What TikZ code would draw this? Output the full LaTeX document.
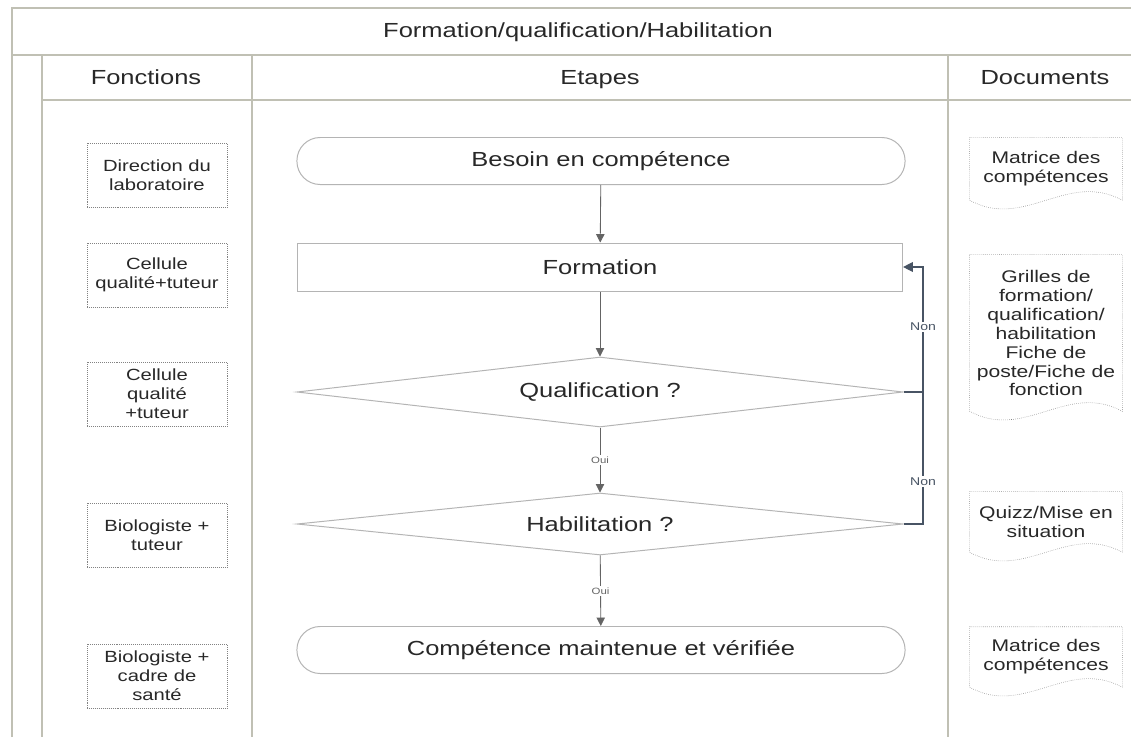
\documentclass[tikz,border=0pt]{standalone}
\usepackage{fontspec}
\setmainfont{Liberation Sans}[FakeStretch=1.25]
\usepackage{xcolor}
\usepackage{tikz}
\usetikzlibrary{shapes.geometric, arrows.meta, positioning, calc}
\definecolor{lanegray}{RGB}{192,192,180}
\definecolor{boxgray}{RGB}{130,130,130}
\definecolor{shapegray}{RGB}{180,180,180}
\definecolor{arrowgray}{RGB}{100,100,100}
\definecolor{retourblue}{RGB}{72,84,100}
\definecolor{textgray}{RGB}{40,40,40}

\tikzset{
  lane/.style={draw=lanegray, line width=1pt},
  entete/.style={text=textgray, text height=1.6ex, text depth=0.3ex, font=\fontsize{14.5}{17}\selectfont},
  fonction/.style={draw=boxgray, densely dotted, minimum width=3.5cm, minimum height=1.6cm,
    inner sep=0pt, align=center, text=textgray, font=\fontsize{11.5}{13.5}\selectfont},
  document/.style={minimum width=3.8cm, inner sep=0pt, align=center, text=textgray,
    font=\fontsize{12}{13.5}\selectfont},
  terminal/.style={draw=shapegray, line width=0.7pt, rounded corners=0.58cm, minimum width=15.2cm,
    minimum height=1.175cm, text=textgray, font=\fontsize{14.5}{17}\selectfont},
  etape/.style={draw=shapegray, line width=0.7pt, minimum width=15.125cm, minimum height=1.2cm,
    text=textgray, font=\fontsize{14.5}{17}\selectfont},
  decision/.style={draw=shapegray, line width=0.7pt, diamond, aspect=9, inner sep=0pt,
    minimum width=15.15cm, text=textgray, font=\fontsize{14.5}{17}\selectfont},
  flow/.style={draw=arrowgray, line width=0.6pt, -{Triangle[width=6pt,length=6pt]}},
  retour/.style={draw=retourblue, line width=0.8pt},
  oui/.style={fill=white, inner sep=1pt, text=arrowgray, font=\fontsize{6.5}{7}\selectfont},
  non/.style={fill=white, inner sep=1pt, text=retourblue, font=\fontsize{8}{9}\selectfont},
}

\begin{document}
\begin{tikzpicture}[x=0.025cm, y=-0.025cm]
\useasboundingbox (0,0) rectangle (1131,737);
\fill[white] (0,0) rectangle (1131,737);

% Lanes
\draw[lane] (12,737) -- (12,8) -- (1131,8);
\draw[lane] (12,55) -- (1131,55);
\draw[lane] (42,100) -- (1131,100);
\foreach \x in {42,252,948}
  \draw[lane] (\x,55) -- (\x,737);

% Headers
\node[entete] (titre) at (578,33) {Formation/qualification/Habilitation};
\node[entete] (hfonctions) at (146,80) {Fonctions};
\node[entete] (hetapes) at (600,80) {Etapes};
\node[entete] (hdocuments) at (1045,80) {Documents};

% Fonctions
\node[fonction] (f1) at (157,175) {Direction du\\laboratoire};
\node[fonction] (f2) at (157,275) {Cellule\\qualité+tuteur};
\node[fonction] (f3) at (157,394) {Cellule\\qualité\\+tuteur};
\node[fonction] (f4) at (157,535) {Biologiste +\\tuteur};
\node[fonction] (f5) at (157,676) {Biologiste +\\cadre de\\santé};

% Etapes
\node[terminal] (besoin) at (601,161) {Besoin en compétence};
\node[etape] (formation) at (600,267) {Formation};
\node[decision, minimum height=1.75cm] (qualif) at (600,392) {Qualification ?};
\node[decision, minimum height=1.55cm] (habil) at (600,524) {Habilitation ?};
\node[terminal] (maintenue) at (601,650) {Compétence maintenue et vérifiée};
\coordinate (boucle) at (923,267);

\draw[flow] (besoin) -- (formation);
\draw[flow] (formation) -- (qualif);
\draw[flow] (qualif) -- node[oui] {Oui} (habil);
\draw[flow] (habil) -- node[oui] {Oui} (maintenue);
\draw[retour, -{Triangle[width=7pt,length=7pt]}] (qualif.east) -| node[non, pos=0.76] {Non} (boucle) -- (formation.east);
\draw[retour] (habil.east) -| node[non, pos=0.66] {Non} (qualif.east -| boucle);

% Documents
\node[document, minimum height=1.55cm] (doc1) at (1046,169) {Matrice des\\compétences};
\node[document, minimum height=3.9cm] (doc2) at (1046,333) {Grilles de\\formation/\\qualification/\\habilitation\\Fiche de\\poste/Fiche de\\fonction};
\node[document, minimum height=1.5cm] (doc3) at (1046,522) {Quizz/Mise en\\situation};
\node[document, minimum height=1.5cm] (doc4) at (1046,657) {Matrice des\\compétences};
\foreach \d in {doc1,doc2,doc3,doc4}
  \draw[boxgray, densely dotted] (\d.north west) -- (\d.north east) -- (\d.south east)
    .. controls +(-55,-30) and +(55,30) .. (\d.south west) -- cycle;
\end{tikzpicture}
\end{document}
